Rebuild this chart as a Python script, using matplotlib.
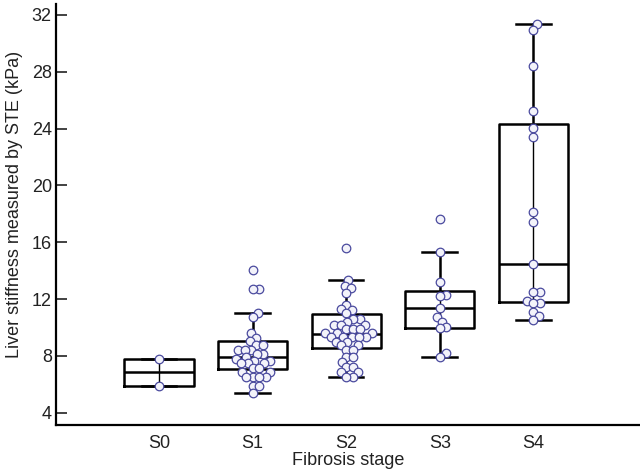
import numpy as np
import matplotlib.pyplot as plt

plt.rcParams['font.family'] = ['Liberation Sans', 'DejaVu Sans']

# --- datos ---
stages = ['S0', 'S1', 'S2', 'S3', 'S4']

s0 = [7.8, 5.9]
s1 = [14.05, 12.7, 12.7, 11.04, 10.76, 9.59, 9.28, 9.05, 8.77, 8.77,
      8.42, 8.42, 8.42, 8.11, 8.11, 7.94, 7.78, 7.66, 7.66, 7.48,
      7.48, 7.48, 7.13, 7.13, 6.89, 6.89, 6.49, 6.49, 6.49, 6.49,
      5.88, 5.88, 5.37]
s2 = [15.58, 13.35, 12.92, 12.76, 12.45, 11.58, 11.23, 11.28, 11.0, 10.58,
      10.58, 10.41, 10.18, 10.18, 10.18, 9.87, 9.87, 9.87, 9.59, 9.59,
      9.59, 9.35, 9.35, 9.35, 9.35, 9.35, 9.0, 9.0, 8.77, 8.77,
      8.42, 8.42, 7.94, 7.94, 7.6, 7.24, 7.24, 6.89, 6.89, 6.54, 6.54]
s3 = [17.64, 15.34, 13.23, 12.3, 12.2, 11.35, 10.76, 10.41, 10.0, 9.95,
      8.18, 7.94]
s4 = [31.37, 30.95, 28.44, 25.27, 24.03, 23.44, 18.15, 17.4, 14.45, 12.52,
      12.52, 11.89, 11.7, 11.7, 11.11, 10.81, 10.53]
values = [s0, s1, s2, s3, s4]

# estadisticos de las cajas
q1 = [5.9, 7.06, 8.53, 9.94, 11.77]
med = [6.85, 7.94, 9.52, 11.35, 14.45]
q3 = [7.8, 9.05, 10.95, 12.59, 24.33]
whis_lo = [5.9, 5.37, 6.54, 7.94, 10.53]
whis_hi = [7.8, 11.04, 13.35, 15.34, 31.37]

# --- figura ---
fig = plt.figure(figsize=(6.4, 4.75), dpi=100)
ax = fig.add_axes([56 / 640, 1 - 425 / 475, 584 / 640, 421 / 475])
ax.set_xlim(-1.1, 5.14)
ax.set_ylim(3.13, 32.77)

pos = np.arange(len(stages))
stats = [dict(med=med[i], q1=q1[i], q3=q3[i], whislo=whis_lo[i],
              whishi=whis_hi[i], fliers=[]) for i in range(len(stages))]
lw = 1.8
ax.bxp(stats, positions=pos, widths=0.74, capwidths=0.37, showfliers=False,
       boxprops=dict(color='black', lw=lw),
       whiskerprops=dict(color='black', lw=lw),
       capprops=dict(color='black', lw=lw),
       medianprops=dict(color='black', lw=lw), zorder=2)
# linea fina dentro de la caja
ax.vlines(pos, q1, q3, color='black', lw=1.0, zorder=2)


def swarm_offsets(yp, d):
    # colocacion tipo beeswarm en pixeles
    order = np.argsort(yp)
    placed = []
    out = np.zeros(len(yp))
    for idx in order:
        y = yp[idx]
        cands = [0.0]
        for px, py in placed:
            dy = y - py
            if abs(dy) < d:
                dx = np.sqrt(d ** 2 - dy ** 2)
                cands += [px + dx, px - dx]
        cands.sort(key=abs)
        for c in cands:
            if all((c - px) ** 2 + (y - py) ** 2 >= d ** 2 - 1e-6 for px, py in placed):
                placed.append((c, y))
                out[idx] = c
                break
    return out


px_per_x = ax.transData.transform((1, 0))[0] - ax.transData.transform((0, 0))[0]
for i, vals in enumerate(values):
    v = np.array(vals)
    yp = ax.transData.transform(np.column_stack([np.zeros(len(v)), v]))[:, 1]
    off = swarm_offsets(yp, 6.8) / px_per_x
    ax.scatter(pos[i] + off, v, s=38, facecolor='#f3f3fa', edgecolor='#4a4a9e',
               linewidth=0.9, zorder=3)

# --- ejes ---
for s in ['top', 'right']:
    ax.spines[s].set_visible(False)
ax.spines['left'].set_linewidth(1.6)
ax.spines['bottom'].set_linewidth(1.6)

ax.set_yticks([4, 8, 12, 16, 20, 24, 28, 32])
ax.tick_params(axis='y', direction='in', length=8, width=1.2, pad=3,
               labelsize=13, colors='#222222')
ax.set_xticks(pos)
ax.set_xticklabels(stages)
ax.tick_params(axis='x', length=0, pad=7, labelsize=13, colors='#222222')

ax.set_xlabel('Fibrosis stage', fontsize=13, color='#222222', labelpad=0)
ax.set_ylabel('Liver stiffness measured by STE (kPa)', fontsize=13, color='#222222')
ax.yaxis.set_label_coords(-0.057, 0.523)

fig.savefig('out.png', dpi=100)
